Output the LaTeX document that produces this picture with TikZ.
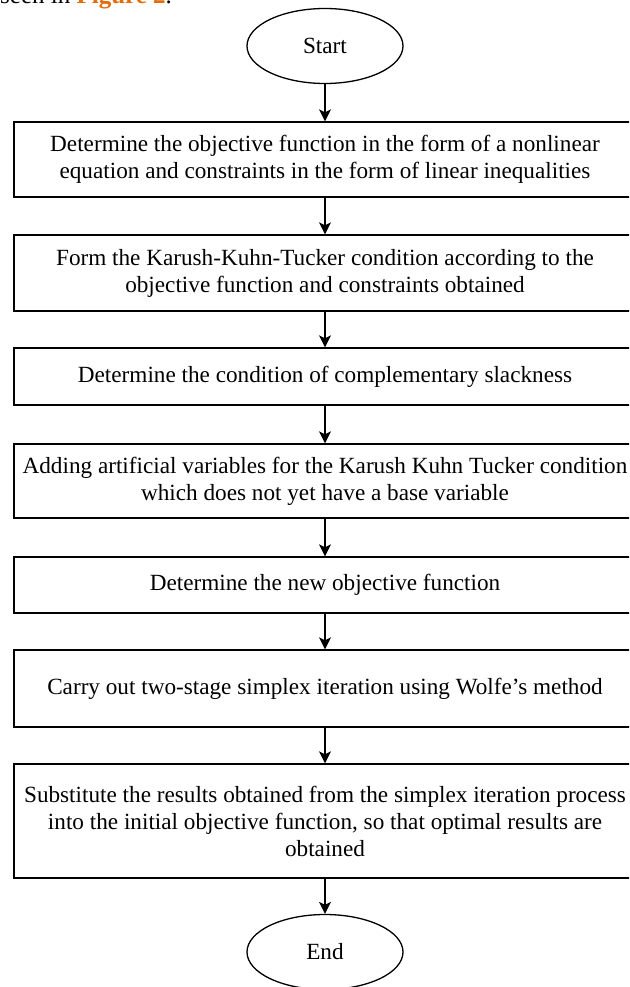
\documentclass[tikz,border=0pt]{standalone}
\usepackage{fontspec}
\setmainfont{Liberation Serif}
\usetikzlibrary{shapes.geometric,arrows.meta}
\definecolor{figorange}{RGB}{228,108,10}
\begin{document}
\begin{tikzpicture}[x=1pt,y=-1pt,
  txt/.style={font=\fontsize{23.2}{27}\selectfont},
  box/.style={txt,draw,line width=1.3pt,minimum width=622pt,align=center,inner sep=0pt},
  term/.style={txt,draw,ellipse,line width=1.3pt,minimum width=156pt,minimum height=75pt,inner sep=0pt},
  arr/.style={line width=1.3pt,-{Stealth[length=12pt,width=12pt,inset=3pt]}}]
\clip (0,0) rectangle (629,987);
\node[anchor=base west,inner sep=0pt,font=\fontsize{25}{30}\selectfont] (cap) at (0,4) {seen in \textcolor{figorange}{\textbf{Figure 2}}.};
\node[term] (start) at (325,46) {Start};
\node[box,minimum height=75pt] (b1) at (325,159.5) {Determine the objective function in the form of a nonlinear\\equation and constraints in the form of linear inequalities};
\node[box,minimum height=76pt] (b2) at (325,273) {Form the Karush-Kuhn-Tucker condition according to the\\objective function and constraints obtained};
\node[box,minimum height=57pt] (b3) at (325,376.5) {Determine the condition of complementary slackness};
\node[box,minimum height=74pt] (b4) at (325,481) {Adding artificial variables for the Karush Kuhn Tucker condition\\which does not yet have a base variable};
\node[box,minimum height=56pt] (b5) at (325,585) {Determine the new objective function};
\node[box,minimum height=77pt] (b6) at (325,688.5) {Carry out two-stage simplex iteration using Wolfe's method};
\node[box,minimum height=114pt] (b7) at (325,821) {Substitute the results obtained from the simplex iteration process\\into the initial objective function, so that optimal results are\\obtained};
\node[term] (end) at (325,952) {End};
\draw[arr] (start) -- (b1);
\draw[arr] (b1) -- (b2);
\draw[arr] (b2) -- (b3);
\draw[arr] (b3) -- (b4);
\draw[arr] (b4) -- (b5);
\draw[arr] (b5) -- (b6);
\draw[arr] (b6) -- (b7);
\draw[arr] (b7) -- (end);
\end{tikzpicture}
\end{document}
